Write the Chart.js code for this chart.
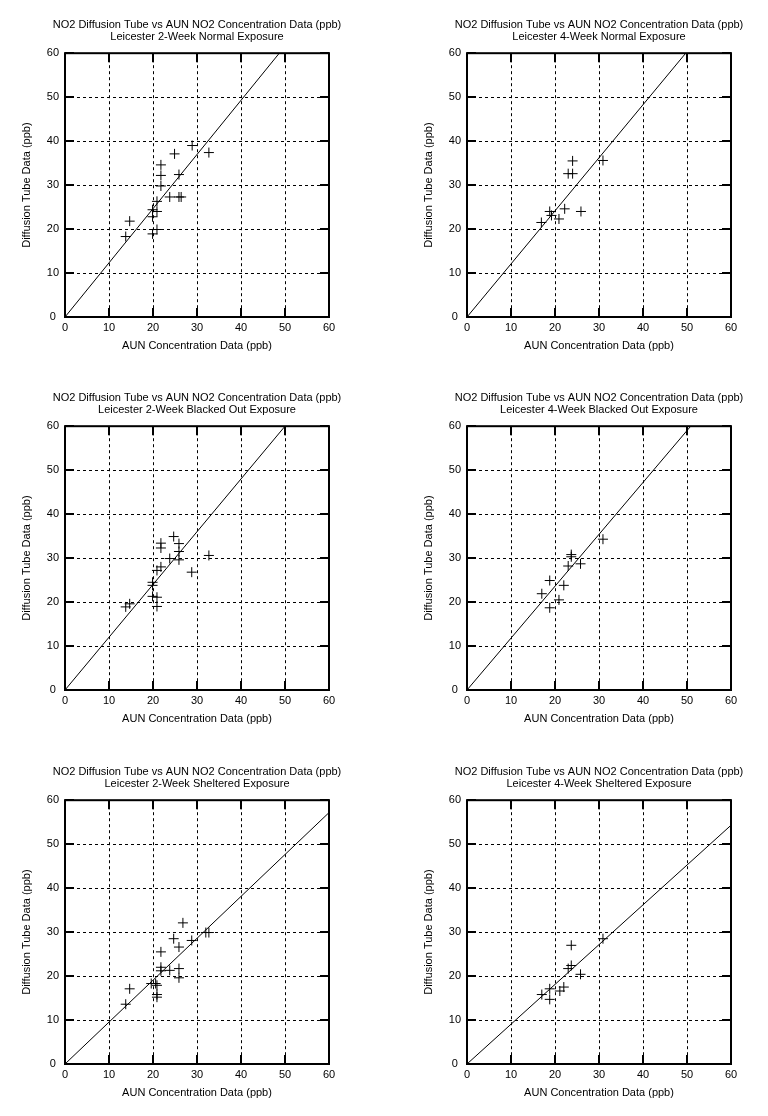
<!DOCTYPE html>
<html>
<head>
<meta charset="utf-8">
<script src="https://cdn.jsdelivr.net/npm/chart.js@4.4.0/dist/chart.umd.min.js"></script>
<style>
  html, body { margin: 0; padding: 0; background: #fff; overflow: hidden; }
  body { width: 768px; height: 1116px; position: relative; }
  canvas { position: absolute; }
</style>
</head>
<body>
<canvas id="c1" width="394" height="373" style="left:0px;top:0px"></canvas>
<canvas id="c2" width="394" height="373" style="left:402px;top:0px"></canvas>
<canvas id="c3" width="394" height="373" style="left:0px;top:373px"></canvas>
<canvas id="c4" width="394" height="373" style="left:402px;top:373px"></canvas>
<canvas id="c5" width="394" height="373" style="left:0px;top:747px"></canvas>
<canvas id="c6" width="394" height="373" style="left:402px;top:747px"></canvas>
<script>
// Заголовки графиков
const mainTitle = 'NO2 Diffusion Tube vs AUN NO2 Concentration Data (ppb)';
const subTitles = [
	'Leicester 2-Week Normal Exposure',
	'Leicester 4-Week Normal Exposure',
	'Leicester 2-Week Blacked Out Exposure',
	'Leicester 4-Week Blacked Out Exposure',
	'Leicester 2-Week Sheltered Exposure',
	'Leicester 4-Week Sheltered Exposure'
];
const xTitle = 'AUN Concentration Data (ppb)';
const yTitle = 'Diffusion Tube Data (ppb)';

// Оси
const axisMin = 0;
const axisMax = 60;
const axisStep = 10;

// 2-Week Normal
const aunNormal2 = [28.9, 32.7, 24.9, 21.8, 21.8, 25.9, 21.8, 23.8, 25.9, 26.4, 20.9, 19.9, 20.9, 19.9, 14.7, 13.8, 19.9, 20.9];
const tubeNormal2 = [39.0, 37.4, 37.1, 34.6, 32.2, 32.4, 29.8, 27.3, 27.3, 27.3, 26.3, 24.4, 24.0, 22.8, 21.8, 18.3, 18.9, 19.9];
// 4-Week Normal
const aunNormal4 = [24.0, 30.9, 23.0, 24.0, 22.2, 25.9, 18.8, 19.2, 20.9, 16.9];
const tubeNormal4 = [35.5, 35.6, 32.6, 32.6, 24.6, 24.0, 24.0, 23.1, 22.3, 21.5];
// 2-Week Blacked Out
const aunBlack2 = [24.7, 21.8, 21.8, 25.9, 25.9, 32.7, 23.8, 25.9, 28.8, 21.8, 20.9, 19.9, 19.9, 19.9, 20.9, 20.9, 14.7, 13.8];
const tubeBlack2 = [34.9, 33.4, 32.3, 33.3, 31.5, 30.6, 29.9, 29.6, 26.8, 28.0, 27.2, 24.5, 23.8, 21.3, 21.1, 19.0, 19.6, 18.9];
// 4-Week Blacked Out
const aunBlack4 = [30.9, 23.7, 23.7, 25.8, 23.0, 18.8, 22.0, 17.0, 20.9, 18.8];
const tubeBlack4 = [34.3, 30.8, 30.3, 28.7, 28.2, 24.9, 23.8, 21.9, 20.5, 18.7];
// 2-Week Sheltered
const aunShelter2 = [26.8, 32.7, 32.0, 24.7, 28.8, 25.9, 21.8, 21.8, 21.8, 23.8, 25.9, 25.9, 19.6, 20.6, 20.9, 20.9, 20.9, 14.7, 13.8];
const tubeShelter2 = [32.1, 29.9, 29.9, 28.5, 28.1, 26.6, 25.5, 22.0, 21.2, 21.3, 21.7, 19.6, 18.3, 18.3, 17.9, 15.8, 15.2, 17.1, 13.6];
// 4-Week Sheltered
const aunShelter4 = [23.7, 30.9, 23.7, 23.0, 25.8, 22.0, 21.1, 18.8, 17.0, 18.8];
const tubeShelter4 = [27.0, 28.5, 22.4, 21.7, 20.4, 17.5, 16.6, 17.1, 15.8, 14.7];

// Наклон линии регрессии для каждого графика
const fitSlopes = [1.232, 1.207, 1.2, 1.18, 0.953, 0.905];

const panelX = [aunNormal2, aunNormal4, aunBlack2, aunBlack4, aunShelter2, aunShelter4];
const panelY = [tubeNormal2, tubeNormal4, tubeBlack2, tubeBlack4, tubeShelter2, tubeShelter4];

Chart.defaults.font.family = '"Liberation Sans", Arial, Helvetica, sans-serif';
Chart.defaults.font.size = 11;
Chart.defaults.color = '#000';

// Рамка и внутренние засечки как в gnuplot
const frameTicks = {
	id: 'frameTicks',
	beforeDatasetsDraw(chart) {
		const ctx = chart.ctx;
		const area = chart.chartArea;
		const xs = chart.scales.x;
		const ys = chart.scales.y;
		const len = 9;
		ctx.save();
		ctx.strokeStyle = '#000';
		ctx.lineWidth = 2;
		ctx.beginPath();
		xs.ticks.forEach(t => {
			const px = Math.round(xs.getPixelForValue(t.value));
			ctx.moveTo(px, area.bottom);
			ctx.lineTo(px, area.bottom - len);
			ctx.moveTo(px, area.top);
			ctx.lineTo(px, area.top + len);
		});
		ys.ticks.forEach(t => {
			const py = Math.round(ys.getPixelForValue(t.value));
			ctx.moveTo(area.left, py);
			ctx.lineTo(area.left + len, py);
			ctx.moveTo(area.right, py);
			ctx.lineTo(area.right - len, py);
		});
		ctx.stroke();
		ctx.strokeRect(area.left, area.top, area.right - area.left, area.bottom - area.top);
		ctx.restore();
	}
};

function makeScale(title, isX) {
	return {
		type: 'linear',
		min: axisMin,
		max: axisMax,
		ticks: {
			stepSize: axisStep,
			padding: isX ? 4 : 6,
			crossAlign: isX ? 'near' : 'center',
			font: { size: 11 }
		},
		grid: {
			color: '#000',
			lineWidth: 1,
			drawTicks: false
		},
		border: { display: false, dash: [3, 3] },
		title: {
			display: true,
			text: title,
			font: { size: 11 },
			padding: isX ? { top: 0, bottom: 20 } : { top: 20, bottom: 0 }
		},
		afterFit: function(scale) {
			if (isX) scale.height = 56;
			else scale.width = 65;
		}
	};
}

function drawPanel(i) {
	const points = panelX[i].map((x, k) => ({ x: x, y: panelY[i][k] }));
	const s = fitSlopes[i];
	const lineEnd = s >= 1 ? { x: axisMax / s, y: axisMax } : { x: axisMax, y: axisMax * s };

	new Chart(document.getElementById('c' + (i + 1)), {
		type: 'scatter',
		data: {
			datasets: [{
				data: points,
				pointStyle: 'cross',
				pointRadius: 5,
				pointBorderWidth: 1,
				borderColor: '#000',
				backgroundColor: '#000'
			}, {
				type: 'line',
				data: [{ x: 0, y: 0 }, lineEnd],
				borderColor: '#000',
				borderWidth: 1,
				pointRadius: 0,
				fill: false
			}]
		},
		options: {
			responsive: false,
			animation: false,
			layout: { padding: 0 },
			plugins: {
				legend: { display: false },
				tooltip: { enabled: false },
				title: {
					display: true,
					text: [mainTitle, subTitles[i]],
					color: '#000',
					font: { size: 11, weight: 'normal', lineHeight: 1.1 },
					padding: { top: 19, bottom: 10 }
				}
			},
			scales: {
				x: makeScale(xTitle, true),
				y: makeScale(yTitle, false),
				// пустая правая ось, чтобы заголовок был по центру графика
				yRight: {
					position: 'right',
					min: axisMin,
					max: axisMax,
					ticks: { display: false },
					grid: { display: false },
					border: { display: false },
					afterFit: function(scale) { scale.width = 65; }
				}
			}
		},
		plugins: [frameTicks]
	});
}

for (let i = 0; i < 6; i++) {
	drawPanel(i);
}
</script>
</body>
</html>
